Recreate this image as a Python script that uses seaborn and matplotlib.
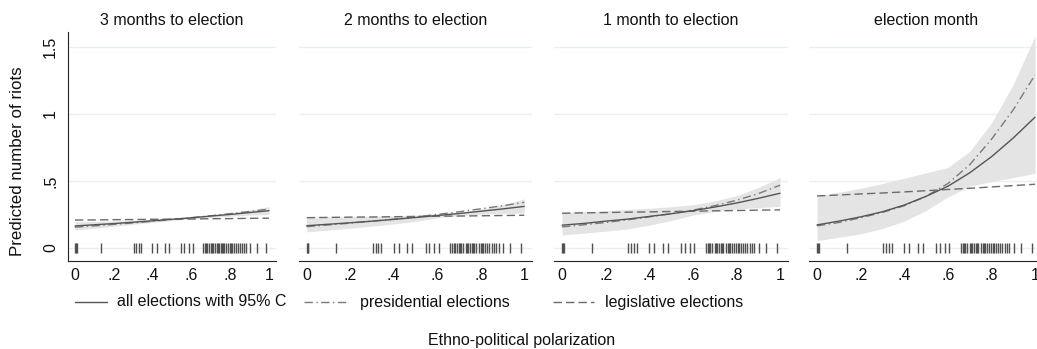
import numpy as np
import pandas as pd
import matplotlib
matplotlib.use("Agg")
import matplotlib.pyplot as plt
from matplotlib.lines import Line2D
import seaborn as sns

sns.set_style("white")
plt.rcParams["font.family"] = ["Liberation Sans", "DejaVu Sans"]

# Predicted riots by ethno-political polarization, evaluated on a grid
polarization = [0.0, 0.1, 0.2, 0.3, 0.4, 0.5, 0.6, 0.7, 0.8, 0.9, 1.0]

panel_titles = ["3 months to election", "2 months to election",
                "1 month to election", "election month"]

all_pred = [
    [0.164, 0.173, 0.182, 0.192, 0.203, 0.214, 0.225, 0.238, 0.250, 0.264, 0.278],
    [0.166, 0.177, 0.188, 0.200, 0.213, 0.227, 0.242, 0.257, 0.274, 0.291, 0.310],
    [0.170, 0.183, 0.200, 0.215, 0.235, 0.255, 0.278, 0.305, 0.335, 0.370, 0.408],
    [0.172, 0.200, 0.232, 0.270, 0.320, 0.385, 0.460, 0.560, 0.680, 0.820, 0.975],
]
ci_low = [
    [0.134, 0.148, 0.162, 0.177, 0.192, 0.205, 0.216, 0.226, 0.237, 0.245, 0.250],
    [0.120, 0.133, 0.148, 0.163, 0.180, 0.198, 0.225, 0.242, 0.252, 0.257, 0.260],
    [0.097, 0.110, 0.125, 0.142, 0.170, 0.204, 0.245, 0.272, 0.290, 0.301, 0.310],
    [0.055, 0.080, 0.105, 0.145, 0.200, 0.280, 0.380, 0.460, 0.495, 0.525, 0.557],
]
ci_high = [
    [0.195, 0.198, 0.202, 0.207, 0.213, 0.221, 0.232, 0.246, 0.262, 0.283, 0.308],
    [0.230, 0.231, 0.233, 0.236, 0.240, 0.245, 0.252, 0.265, 0.288, 0.322, 0.366],
    [0.266, 0.270, 0.278, 0.287, 0.296, 0.308, 0.322, 0.350, 0.390, 0.450, 0.525],
    [0.390, 0.415, 0.445, 0.480, 0.520, 0.560, 0.600, 0.720, 0.930, 1.220, 1.580],
]
presidential = [
    [0.155, 0.165, 0.176, 0.187, 0.199, 0.212, 0.226, 0.240, 0.256, 0.272, 0.290],
    [0.159, 0.172, 0.185, 0.200, 0.215, 0.232, 0.250, 0.270, 0.292, 0.315, 0.340],
    [0.157, 0.173, 0.190, 0.210, 0.232, 0.255, 0.282, 0.315, 0.355, 0.405, 0.468],
    [0.165, 0.190, 0.225, 0.265, 0.315, 0.385, 0.480, 0.620, 0.810, 1.030, 1.290],
]
legislative = [
    [0.208, 0.209, 0.211, 0.212, 0.214, 0.215, 0.216, 0.218, 0.219, 0.221, 0.222],
    [0.226, 0.228, 0.230, 0.231, 0.233, 0.235, 0.237, 0.238, 0.240, 0.242, 0.244],
    [0.259, 0.262, 0.264, 0.267, 0.269, 0.272, 0.274, 0.277, 0.279, 0.282, 0.284],
    [0.388, 0.395, 0.403, 0.410, 0.418, 0.427, 0.436, 0.445, 0.455, 0.465, 0.475],
]

# Observed polarization values (rug)
observed = [0.0, 0.004, 0.008, 0.136, 0.304, 0.317, 0.329, 0.342, 0.399, 0.422,
            0.462, 0.485, 0.546, 0.564, 0.587, 0.607,
            0.660, 0.670, 0.675, 0.680, 0.690, 0.700, 0.705, 0.710, 0.720,
            0.730, 0.735, 0.740, 0.750, 0.760, 0.765, 0.770, 0.780, 0.790,
            0.800, 0.805, 0.810, 0.820, 0.830, 0.840, 0.850, 0.860, 0.870,
            0.882, 0.904, 0.936, 0.986]

W, H = 1037, 349
fig = plt.figure(figsize=(W / 100, H / 100), dpi=100)

# panel extents in pixels: (left, width)
panel_px = [(68.2, 207.6), (299.1, 232.8), (554.4, 233.3), (809.4, 233.3)]
ax_bottom, ax_height = 88 / H, 229.3 / H

solid_c = "#555555"
pres_c = "#7a7a7a"
leg_c = "#6a6a6a"
band_c = "#e4e4e4"
grid_c = "#e9f0f1"
fs = 11.5

for i, (left, width) in enumerate(panel_px):
    ax = fig.add_axes([left / W, ax_bottom, width / W, ax_height])
    df = pd.DataFrame({
        "x": polarization,
        "all": all_pred[i],
        "lo": ci_low[i],
        "hi": ci_high[i],
        "pres": presidential[i],
        "leg": legislative[i],
    })
    for yv in [0, 0.5, 1, 1.5]:
        ax.axhline(yv, color=grid_c, lw=1.0, zorder=0)
    ax.fill_between(df["x"], df["lo"], df["hi"], color=band_c, lw=0, zorder=1)
    sns.lineplot(data=df, x="x", y="leg", ax=ax, color=leg_c, lw=1.0,
                 zorder=3).lines[-1].set_dashes([6, 3])
    sns.lineplot(data=df, x="x", y="pres", ax=ax, color=pres_c, lw=1.0,
                 zorder=3).lines[-1].set_dashes([6, 2.5, 1, 2.5])
    sns.lineplot(data=df, x="x", y="all", ax=ax, color=solid_c, lw=1.0, zorder=4)
    ax.plot(observed, [0] * len(observed), linestyle="none", marker="|",
            markersize=7.2, markeredgewidth=1.0, color="#505050", zorder=5)

    ax.set_xlim(-0.035, 1.035)
    ax.set_ylim(-0.097, 1.612)
    ax.set_xticks([0, 0.2, 0.4, 0.6, 0.8, 1.0])
    ax.set_xticklabels(["0", ".2", ".4", ".6", ".8", "1"], fontsize=fs)
    ax.set_xlabel("")
    ax.set_ylabel("")
    ax.set_title(panel_titles[i], fontsize=fs, pad=5, color="#111111")
    for s in ["top", "right"]:
        ax.spines[s].set_visible(False)
    ax.spines["bottom"].set_color("#222222")
    ax.spines["bottom"].set_linewidth(0.8)
    ax.tick_params(axis="x", direction="out", length=4.3, width=0.8,
                   color="#222222", pad=0.5, labelcolor="#111111")
    if i == 0:
        ax.spines["left"].set_color("#222222")
        ax.spines["left"].set_linewidth(0.8)
        ax.set_yticks([0, 0.5, 1, 1.5])
        ax.set_yticklabels(["0", ".5", "1", "1.5"], fontsize=fs,
                           rotation=90, va="center")
        ax.tick_params(axis="y", direction="out", length=4.3, width=0.8,
                       color="#222222", pad=3, labelcolor="#111111")
    else:
        ax.spines["left"].set_visible(False)
        ax.set_yticks([])
    ax.patch.set_alpha(0)

fig.text(18 / W, 1 - 161 / H, "Predicted number of riots", rotation=90,
         ha="center", va="center", fontsize=12.2, color="#111111")
fig.text(522 / W, 1 - 341 / H, "Ethno-political polarization",
         ha="center", va="center", fontsize=fs, color="#111111")

# legend row
leg_y = 1 - 302 / H
keys = [
    (75, 107, solid_c, None, "all elections with 95% C", 117),
    (304, 346, pres_c, [6, 2.5, 1, 2.5], "presidential elections", 360),
    (553, 594, leg_c, [6, 3], "legislative elections", 605),
]
for x0, x1, col, dash, label, tx in keys:
    ln = Line2D([x0 / W, x1 / W], [leg_y, leg_y], transform=fig.transFigure,
                color=col, lw=1.0)
    if dash:
        ln.set_dashes(dash)
    fig.add_artist(ln)
    fig.text(tx / W, leg_y, label, ha="left", va="center", fontsize=fs,
             color="#111111")

fig.savefig("out.png", dpi=100)
